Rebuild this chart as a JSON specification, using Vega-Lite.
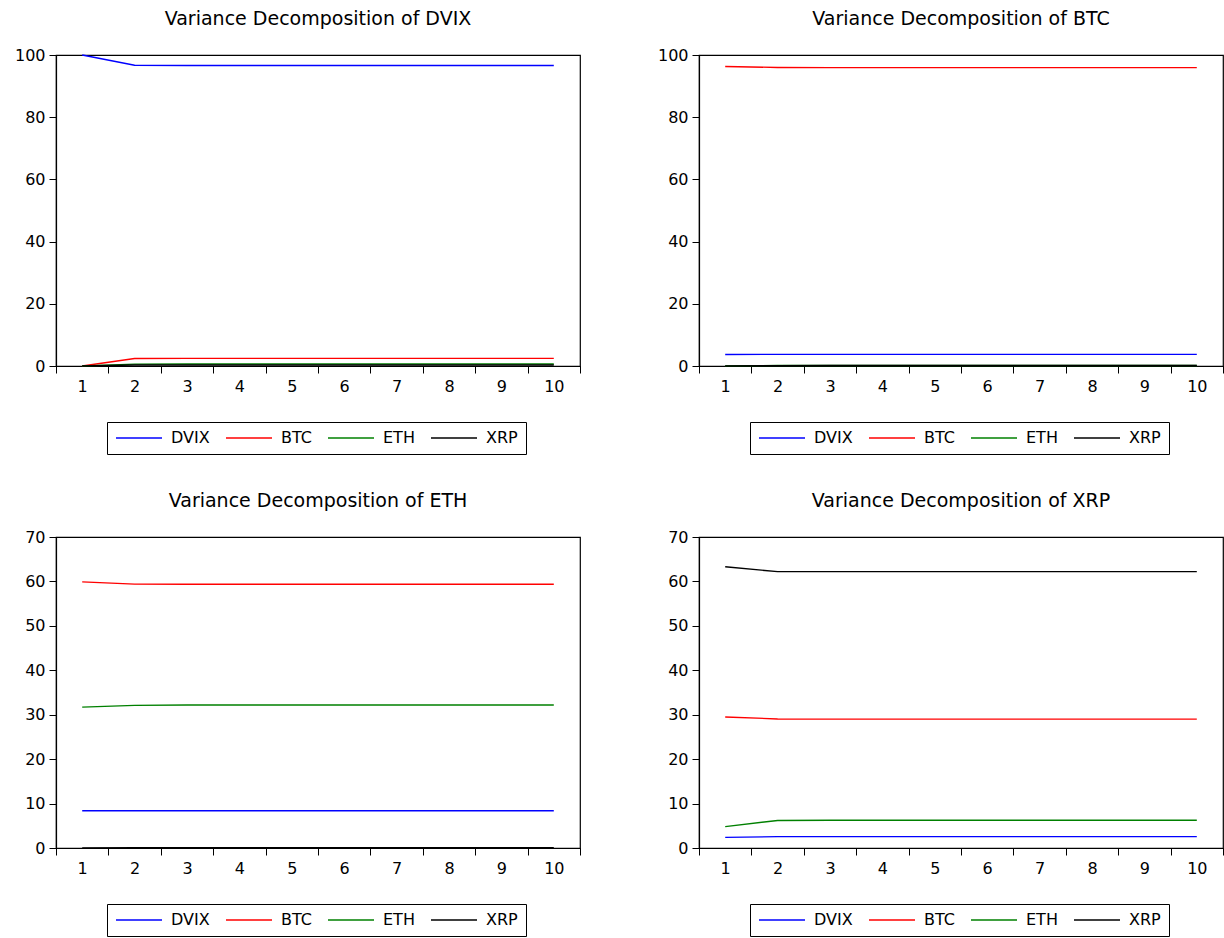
{
  "$schema": "https://vega.github.io/schema/vega-lite/v6.json",
  "padding": {"left": 13, "top": 9, "right": 0, "bottom": 0},
  "background": "white",
  "datasets": {
    "vd": [
      {"panel":"DVIX","period":1,"series":"DVIX","value":100},
      {"panel":"DVIX","period":2,"series":"DVIX","value":96.7},
      {"panel":"DVIX","period":3,"series":"DVIX","value":96.6},
      {"panel":"DVIX","period":4,"series":"DVIX","value":96.6},
      {"panel":"DVIX","period":5,"series":"DVIX","value":96.6},
      {"panel":"DVIX","period":6,"series":"DVIX","value":96.6},
      {"panel":"DVIX","period":7,"series":"DVIX","value":96.6},
      {"panel":"DVIX","period":8,"series":"DVIX","value":96.6},
      {"panel":"DVIX","period":9,"series":"DVIX","value":96.6},
      {"panel":"DVIX","period":10,"series":"DVIX","value":96.6},
      {"panel":"DVIX","period":1,"series":"BTC","value":0},
      {"panel":"DVIX","period":2,"series":"BTC","value":2.4},
      {"panel":"DVIX","period":3,"series":"BTC","value":2.45},
      {"panel":"DVIX","period":4,"series":"BTC","value":2.45},
      {"panel":"DVIX","period":5,"series":"BTC","value":2.45},
      {"panel":"DVIX","period":6,"series":"BTC","value":2.45},
      {"panel":"DVIX","period":7,"series":"BTC","value":2.45},
      {"panel":"DVIX","period":8,"series":"BTC","value":2.45},
      {"panel":"DVIX","period":9,"series":"BTC","value":2.45},
      {"panel":"DVIX","period":10,"series":"BTC","value":2.45},
      {"panel":"DVIX","period":1,"series":"ETH","value":0},
      {"panel":"DVIX","period":2,"series":"ETH","value":0.6},
      {"panel":"DVIX","period":3,"series":"ETH","value":0.65},
      {"panel":"DVIX","period":4,"series":"ETH","value":0.65},
      {"panel":"DVIX","period":5,"series":"ETH","value":0.65},
      {"panel":"DVIX","period":6,"series":"ETH","value":0.65},
      {"panel":"DVIX","period":7,"series":"ETH","value":0.65},
      {"panel":"DVIX","period":8,"series":"ETH","value":0.65},
      {"panel":"DVIX","period":9,"series":"ETH","value":0.65},
      {"panel":"DVIX","period":10,"series":"ETH","value":0.65},
      {"panel":"DVIX","period":1,"series":"XRP","value":0},
      {"panel":"DVIX","period":2,"series":"XRP","value":0.3},
      {"panel":"DVIX","period":3,"series":"XRP","value":0.3},
      {"panel":"DVIX","period":4,"series":"XRP","value":0.3},
      {"panel":"DVIX","period":5,"series":"XRP","value":0.3},
      {"panel":"DVIX","period":6,"series":"XRP","value":0.3},
      {"panel":"DVIX","period":7,"series":"XRP","value":0.3},
      {"panel":"DVIX","period":8,"series":"XRP","value":0.3},
      {"panel":"DVIX","period":9,"series":"XRP","value":0.3},
      {"panel":"DVIX","period":10,"series":"XRP","value":0.3},

      {"panel":"BTC","period":1,"series":"DVIX","value":3.7},
      {"panel":"BTC","period":2,"series":"DVIX","value":3.75},
      {"panel":"BTC","period":3,"series":"DVIX","value":3.75},
      {"panel":"BTC","period":4,"series":"DVIX","value":3.75},
      {"panel":"BTC","period":5,"series":"DVIX","value":3.75},
      {"panel":"BTC","period":6,"series":"DVIX","value":3.75},
      {"panel":"BTC","period":7,"series":"DVIX","value":3.75},
      {"panel":"BTC","period":8,"series":"DVIX","value":3.75},
      {"panel":"BTC","period":9,"series":"DVIX","value":3.75},
      {"panel":"BTC","period":10,"series":"DVIX","value":3.75},
      {"panel":"BTC","period":1,"series":"BTC","value":96.3},
      {"panel":"BTC","period":2,"series":"BTC","value":96.0},
      {"panel":"BTC","period":3,"series":"BTC","value":95.95},
      {"panel":"BTC","period":4,"series":"BTC","value":95.95},
      {"panel":"BTC","period":5,"series":"BTC","value":95.95},
      {"panel":"BTC","period":6,"series":"BTC","value":95.95},
      {"panel":"BTC","period":7,"series":"BTC","value":95.95},
      {"panel":"BTC","period":8,"series":"BTC","value":95.95},
      {"panel":"BTC","period":9,"series":"BTC","value":95.95},
      {"panel":"BTC","period":10,"series":"BTC","value":95.95},
      {"panel":"BTC","period":1,"series":"ETH","value":0},
      {"panel":"BTC","period":2,"series":"ETH","value":0.15},
      {"panel":"BTC","period":3,"series":"ETH","value":0.15},
      {"panel":"BTC","period":4,"series":"ETH","value":0.15},
      {"panel":"BTC","period":5,"series":"ETH","value":0.15},
      {"panel":"BTC","period":6,"series":"ETH","value":0.15},
      {"panel":"BTC","period":7,"series":"ETH","value":0.15},
      {"panel":"BTC","period":8,"series":"ETH","value":0.15},
      {"panel":"BTC","period":9,"series":"ETH","value":0.15},
      {"panel":"BTC","period":10,"series":"ETH","value":0.15},
      {"panel":"BTC","period":1,"series":"XRP","value":0},
      {"panel":"BTC","period":2,"series":"XRP","value":0.1},
      {"panel":"BTC","period":3,"series":"XRP","value":0.15},
      {"panel":"BTC","period":4,"series":"XRP","value":0.15},
      {"panel":"BTC","period":5,"series":"XRP","value":0.15},
      {"panel":"BTC","period":6,"series":"XRP","value":0.15},
      {"panel":"BTC","period":7,"series":"XRP","value":0.15},
      {"panel":"BTC","period":8,"series":"XRP","value":0.15},
      {"panel":"BTC","period":9,"series":"XRP","value":0.15},
      {"panel":"BTC","period":10,"series":"XRP","value":0.15},

      {"panel":"ETH","period":1,"series":"DVIX","value":8.4},
      {"panel":"ETH","period":2,"series":"DVIX","value":8.4},
      {"panel":"ETH","period":3,"series":"DVIX","value":8.4},
      {"panel":"ETH","period":4,"series":"DVIX","value":8.4},
      {"panel":"ETH","period":5,"series":"DVIX","value":8.4},
      {"panel":"ETH","period":6,"series":"DVIX","value":8.4},
      {"panel":"ETH","period":7,"series":"DVIX","value":8.4},
      {"panel":"ETH","period":8,"series":"DVIX","value":8.4},
      {"panel":"ETH","period":9,"series":"DVIX","value":8.4},
      {"panel":"ETH","period":10,"series":"DVIX","value":8.4},
      {"panel":"ETH","period":1,"series":"BTC","value":59.9},
      {"panel":"ETH","period":2,"series":"BTC","value":59.4},
      {"panel":"ETH","period":3,"series":"BTC","value":59.35},
      {"panel":"ETH","period":4,"series":"BTC","value":59.35},
      {"panel":"ETH","period":5,"series":"BTC","value":59.35},
      {"panel":"ETH","period":6,"series":"BTC","value":59.35},
      {"panel":"ETH","period":7,"series":"BTC","value":59.35},
      {"panel":"ETH","period":8,"series":"BTC","value":59.35},
      {"panel":"ETH","period":9,"series":"BTC","value":59.35},
      {"panel":"ETH","period":10,"series":"BTC","value":59.35},
      {"panel":"ETH","period":1,"series":"ETH","value":31.7},
      {"panel":"ETH","period":2,"series":"ETH","value":32.1},
      {"panel":"ETH","period":3,"series":"ETH","value":32.2},
      {"panel":"ETH","period":4,"series":"ETH","value":32.2},
      {"panel":"ETH","period":5,"series":"ETH","value":32.2},
      {"panel":"ETH","period":6,"series":"ETH","value":32.2},
      {"panel":"ETH","period":7,"series":"ETH","value":32.2},
      {"panel":"ETH","period":8,"series":"ETH","value":32.2},
      {"panel":"ETH","period":9,"series":"ETH","value":32.2},
      {"panel":"ETH","period":10,"series":"ETH","value":32.2},
      {"panel":"ETH","period":1,"series":"XRP","value":0},
      {"panel":"ETH","period":2,"series":"XRP","value":0.05},
      {"panel":"ETH","period":3,"series":"XRP","value":0.05},
      {"panel":"ETH","period":4,"series":"XRP","value":0.05},
      {"panel":"ETH","period":5,"series":"XRP","value":0.05},
      {"panel":"ETH","period":6,"series":"XRP","value":0.05},
      {"panel":"ETH","period":7,"series":"XRP","value":0.05},
      {"panel":"ETH","period":8,"series":"XRP","value":0.05},
      {"panel":"ETH","period":9,"series":"XRP","value":0.05},
      {"panel":"ETH","period":10,"series":"XRP","value":0.05},

      {"panel":"XRP","period":1,"series":"DVIX","value":2.4},
      {"panel":"XRP","period":2,"series":"DVIX","value":2.55},
      {"panel":"XRP","period":3,"series":"DVIX","value":2.55},
      {"panel":"XRP","period":4,"series":"DVIX","value":2.55},
      {"panel":"XRP","period":5,"series":"DVIX","value":2.55},
      {"panel":"XRP","period":6,"series":"DVIX","value":2.55},
      {"panel":"XRP","period":7,"series":"DVIX","value":2.55},
      {"panel":"XRP","period":8,"series":"DVIX","value":2.55},
      {"panel":"XRP","period":9,"series":"DVIX","value":2.55},
      {"panel":"XRP","period":10,"series":"DVIX","value":2.55},
      {"panel":"XRP","period":1,"series":"BTC","value":29.5},
      {"panel":"XRP","period":2,"series":"BTC","value":29.05},
      {"panel":"XRP","period":3,"series":"BTC","value":29.0},
      {"panel":"XRP","period":4,"series":"BTC","value":29.0},
      {"panel":"XRP","period":5,"series":"BTC","value":29.0},
      {"panel":"XRP","period":6,"series":"BTC","value":29.0},
      {"panel":"XRP","period":7,"series":"BTC","value":29.0},
      {"panel":"XRP","period":8,"series":"BTC","value":29.0},
      {"panel":"XRP","period":9,"series":"BTC","value":29.0},
      {"panel":"XRP","period":10,"series":"BTC","value":29.0},
      {"panel":"XRP","period":1,"series":"ETH","value":4.8},
      {"panel":"XRP","period":2,"series":"ETH","value":6.2},
      {"panel":"XRP","period":3,"series":"ETH","value":6.25},
      {"panel":"XRP","period":4,"series":"ETH","value":6.25},
      {"panel":"XRP","period":5,"series":"ETH","value":6.25},
      {"panel":"XRP","period":6,"series":"ETH","value":6.25},
      {"panel":"XRP","period":7,"series":"ETH","value":6.25},
      {"panel":"XRP","period":8,"series":"ETH","value":6.25},
      {"panel":"XRP","period":9,"series":"ETH","value":6.25},
      {"panel":"XRP","period":10,"series":"ETH","value":6.25},
      {"panel":"XRP","period":1,"series":"XRP","value":63.3},
      {"panel":"XRP","period":2,"series":"XRP","value":62.2},
      {"panel":"XRP","period":3,"series":"XRP","value":62.2},
      {"panel":"XRP","period":4,"series":"XRP","value":62.2},
      {"panel":"XRP","period":5,"series":"XRP","value":62.2},
      {"panel":"XRP","period":6,"series":"XRP","value":62.2},
      {"panel":"XRP","period":7,"series":"XRP","value":62.2},
      {"panel":"XRP","period":8,"series":"XRP","value":62.2},
      {"panel":"XRP","period":9,"series":"XRP","value":62.2},
      {"panel":"XRP","period":10,"series":"XRP","value":62.2}
    ]
  },
  "columns": 2,
  "spacing": {"column": 74, "row": 35},
  "resolve": {"legend": {"stroke": "independent"}, "scale": {"y": "independent"}},
  "config": {
    "font": "DejaVu Sans",
    "view": {"stroke": "#000000", "strokeWidth": 1.2},
    "title": {"font": "DejaVu Sans", "fontSize": 19, "fontWeight": "normal", "color": "#000000", "offset": 18, "anchor": "middle"},
    "axis": {
      "labelFont": "DejaVu Sans", "labelFontSize": 16, "labelColor": "#000000",
      "domainColor": "#000000", "tickColor": "#000000", "tickSize": 7,
      "grid": false, "title": null, "domainWidth": 1.2, "tickWidth": 1
    },
    "legend": {
      "orient": "none", "legendX": 51, "legendY": 367,
      "direction": "horizontal", "title": null,
      "strokeColor": "#000000", "fillColor": "#ffffff", "padding": 8,
      "symbolSize": 2116, "symbolStrokeWidth": 1.8,
      "clipHeight": 16, "labelFont": "DejaVu Sans", "labelFontSize": 16,
      "labelColor": "#000000", "labelOffset": 8, "columnPadding": 15
    },
    "line": {"strokeWidth": 1.4}
  },
  "concat": [
    {
      "title": "Variance Decomposition of DVIX",
      "width": 524, "height": 311,
      "data": {"name": "vd"},
      "transform": [{"filter": "datum.panel == 'DVIX'"}],
      "mark": {"type": "line"},
      "encoding": {
        "x": {"field": "period", "type": "ordinal", "scale": {"paddingInner": 0, "paddingOuter": 0}, "axis": {"labelAngle": 0, "tickBand": "extent", "labelPadding": 5}},
        "y": {"field": "value", "type": "quantitative", "scale": {"domain": [0, 100], "nice": false}, "axis": {"values": [0, 20, 40, 60, 80, 100], "labelPadding": 4}},
        "stroke": {"field": "series", "type": "nominal", "sort": ["DVIX", "BTC", "ETH", "XRP"], "scale": {"domain": ["DVIX", "BTC", "ETH", "XRP"], "range": ["#0000ff", "#ff0000", "#008000", "#000000"]}, "legend": {"symbolType": "stroke"}}
      }
    },
    {
      "title": "Variance Decomposition of BTC",
      "width": 524, "height": 311,
      "data": {"name": "vd"},
      "transform": [{"filter": "datum.panel == 'BTC'"}],
      "mark": {"type": "line"},
      "encoding": {
        "x": {"field": "period", "type": "ordinal", "scale": {"paddingInner": 0, "paddingOuter": 0}, "axis": {"labelAngle": 0, "tickBand": "extent", "labelPadding": 5}},
        "y": {"field": "value", "type": "quantitative", "scale": {"domain": [0, 100], "nice": false}, "axis": {"values": [0, 20, 40, 60, 80, 100], "labelPadding": 4}},
        "stroke": {"field": "series", "type": "nominal", "sort": ["DVIX", "BTC", "ETH", "XRP"], "scale": {"domain": ["DVIX", "BTC", "ETH", "XRP"], "range": ["#0000ff", "#ff0000", "#008000", "#000000"]}, "legend": {"symbolType": "stroke"}}
      }
    },
    {
      "title": "Variance Decomposition of ETH",
      "width": 524, "height": 311,
      "data": {"name": "vd"},
      "transform": [{"filter": "datum.panel == 'ETH'"}],
      "mark": {"type": "line"},
      "encoding": {
        "x": {"field": "period", "type": "ordinal", "scale": {"paddingInner": 0, "paddingOuter": 0}, "axis": {"labelAngle": 0, "tickBand": "extent", "labelPadding": 5}},
        "y": {"field": "value", "type": "quantitative", "scale": {"domain": [0, 70], "nice": false}, "axis": {"values": [0, 10, 20, 30, 40, 50, 60, 70], "labelPadding": 4}},
        "stroke": {"field": "series", "type": "nominal", "sort": ["DVIX", "BTC", "ETH", "XRP"], "scale": {"domain": ["DVIX", "BTC", "ETH", "XRP"], "range": ["#0000ff", "#ff0000", "#008000", "#000000"]}, "legend": {"symbolType": "stroke"}}
      }
    },
    {
      "title": "Variance Decomposition of XRP",
      "width": 524, "height": 311,
      "data": {"name": "vd"},
      "transform": [{"filter": "datum.panel == 'XRP'"}],
      "mark": {"type": "line"},
      "encoding": {
        "x": {"field": "period", "type": "ordinal", "scale": {"paddingInner": 0, "paddingOuter": 0}, "axis": {"labelAngle": 0, "tickBand": "extent", "labelPadding": 5}},
        "y": {"field": "value", "type": "quantitative", "scale": {"domain": [0, 70], "nice": false}, "axis": {"values": [0, 10, 20, 30, 40, 50, 60, 70], "labelPadding": 4}},
        "stroke": {"field": "series", "type": "nominal", "sort": ["DVIX", "BTC", "ETH", "XRP"], "scale": {"domain": ["DVIX", "BTC", "ETH", "XRP"], "range": ["#0000ff", "#ff0000", "#008000", "#000000"]}, "legend": {"symbolType": "stroke"}}
      }
    }
  ]
}
